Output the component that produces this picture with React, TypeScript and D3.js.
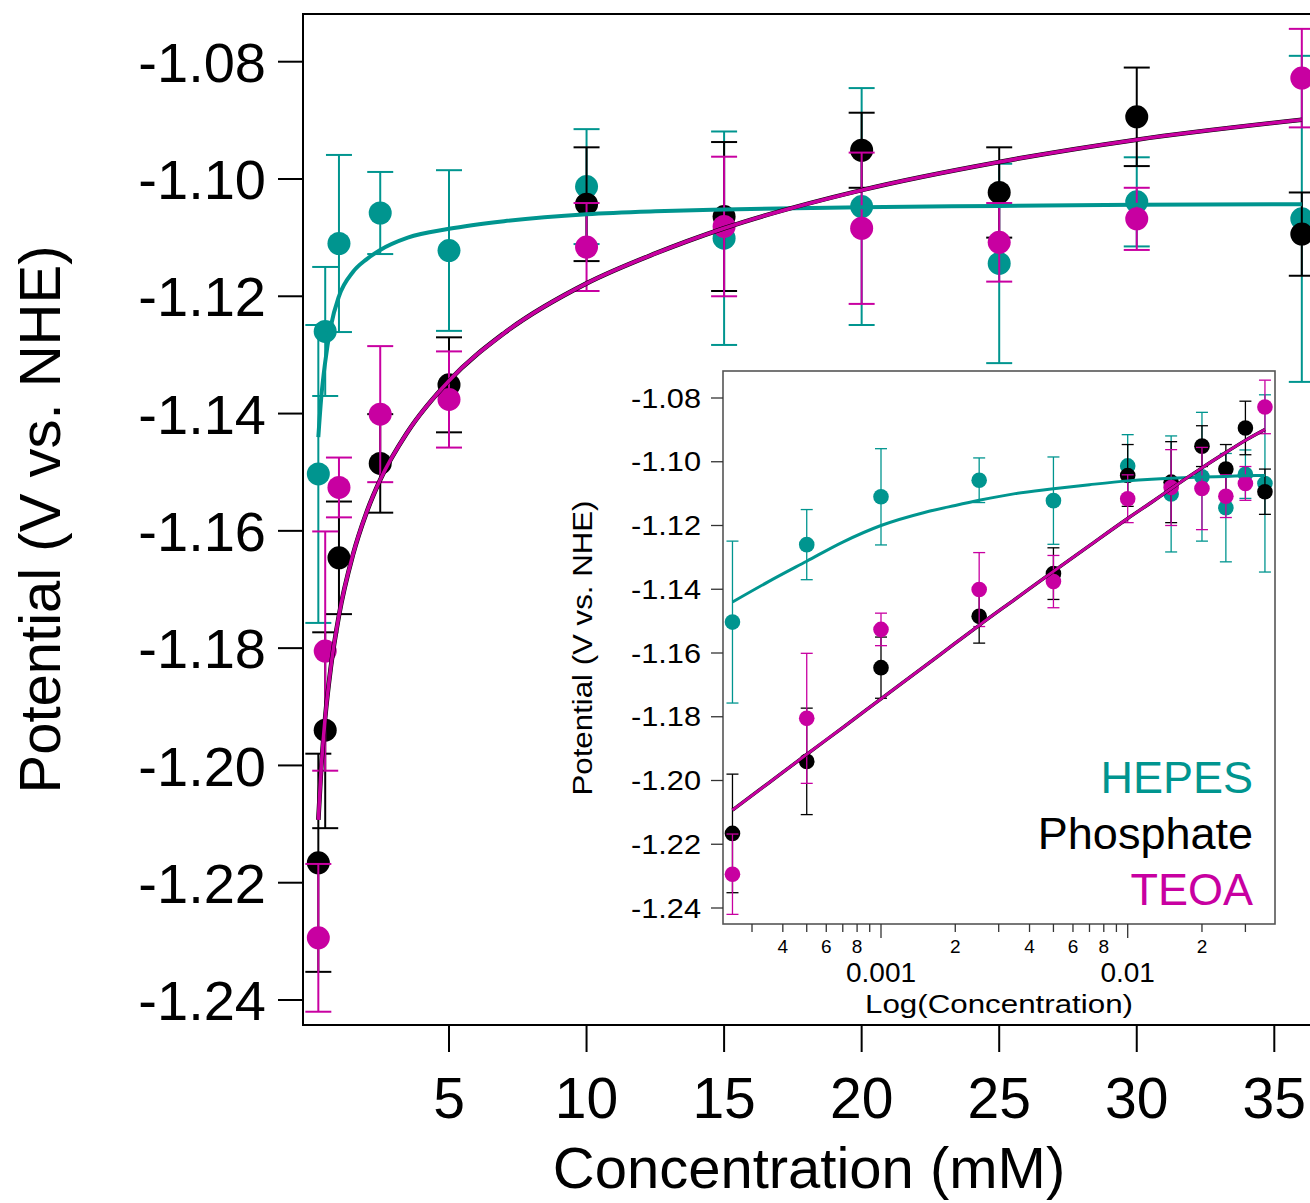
import React from "react";
import * as d3 from "d3";

// ---- data (concentration in mM, potential in V vs. NHE) ----
const concentrations = [0.25, 0.5, 1, 2.5, 5, 10, 15, 20, 25, 30, 36];
const hepesValues = [-1.1503, -1.126, -1.111, -1.1058, -1.1122, -1.1013, -1.1101, -1.1047, -1.1144, -1.1039, -1.1068];
const hepesErrors = [0.0254, 0.011, 0.0151, 0.007, 0.0137, 0.0098, 0.0182, 0.0202, 0.017, 0.0076, 0.0278];
const phosphateValues = [-1.2166, -1.194, -1.1646, -1.1485, -1.1351, -1.1043, -1.1064, -1.0951, -1.1023, -1.0894, -1.1094];
const phosphateErrors = [0.0186, 0.0167, 0.0096, 0.0084, 0.0081, 0.0097, 0.0127, 0.0064, 0.0077, 0.0084, 0.0071];
const teoaValues = [-1.2294, -1.1805, -1.1526, -1.1401, -1.1376, -1.1116, -1.1081, -1.1084, -1.1108, -1.1068, -1.0828];
const teoaErrors = [0.0126, 0.0204, 0.0051, 0.0116, 0.0082, 0.0075, 0.0119, 0.0129, 0.0067, 0.0053, 0.0084];

// fitted curves
const fitConcentrations = [0.25, 0.35, 0.5, 0.7, 1, 1.5, 2, 2.5, 3.5, 5, 7, 10, 12.5, 15, 20, 25, 30, 36];
const hepesFit = [-1.144, -1.1376, -1.1312, -1.1252, -1.12, -1.1159, -1.1137, -1.1121, -1.11, -1.1085, -1.1072, -1.106, -1.1055, -1.1052, -1.1048, -1.1046, -1.1044, -1.1043];
const phosphateFit = [-1.2093, -1.2008, -1.1918, -1.1834, -1.1744, -1.1642, -1.1569, -1.1513, -1.1431, -1.1344, -1.1263, -1.1178, -1.1127, -1.1084, -1.1019, -1.0971, -1.0933, -1.0899];
const teoaFit = [-1.2093, -1.2008, -1.1918, -1.1834, -1.1744, -1.1642, -1.1569, -1.1513, -1.1431, -1.1344, -1.1263, -1.1178, -1.1127, -1.1084, -1.1019, -1.0971, -1.0933, -1.0899];

const mainXTicks = [5, 10, 15, 20, 25, 30, 35];
const yTicks = [-1.08, -1.1, -1.12, -1.14, -1.16, -1.18, -1.2, -1.22, -1.24];
const insetMinorTicks = [3e-4, 4e-4, 5e-4, 6e-4, 7e-4, 8e-4, 9e-4, 2e-3, 3e-3, 4e-3, 5e-3, 6e-3, 7e-3, 8e-3, 9e-3, 2e-2, 3e-2];
const insetMajorTicks = [1e-3, 1e-2];
const insetMinorLabels = [4e-4, 6e-4, 8e-4, 2e-3, 4e-3, 6e-3, 8e-3, 2e-2];

const TEAL = "#00958F";
const MAGENTA = "#C800A1";
const BLACK = "#000000";
const FONT = "'Liberation Sans', Arial, Helvetica, sans-serif";

const series = [
  { name: "HEPES", color: TEAL, values: hepesValues, errors: hepesErrors },
  { name: "Phosphate", color: BLACK, values: phosphateValues, errors: phosphateErrors },
  { name: "TEOA", color: MAGENTA, values: teoaValues, errors: teoaErrors },
];
const fits = [
  { color: TEAL, values: hepesFit, wMain: 4, wInset: 3 },
  { color: BLACK, values: phosphateFit, wMain: 4.6, wInset: 3.4 },
  { color: MAGENTA, values: teoaFit, wMain: 3.6, wInset: 2.8 },
];

export default function App() {
  const W = 1310, H = 1203;
  // main panel
  const mL = 303, mT = 14, mB = 1025, mR = 1345;
  const x = d3.scaleLinear().domain([0, 35]).range([311.45, 1274.3]);
  const y = d3.scaleLinear().domain([-1.24, -1.08]).range([1000, 61.7]);

  // inset panel
  const iL = 723, iT = 371, iR = 1275, iB = 924;
  const xi = d3.scaleLog().domain([0.001, 0.01]).range([881, 1127.7]);
  const yi = d3.scaleLinear().domain([-1.24, -1.08]).range([908, 398]);

  const mainLine = (vals: number[]) =>
    d3.line<number>().x((_, i) => x(fitConcentrations[i])).y((v) => y(v)).curve(d3.curveMonotoneX)(vals) || "";
  const insetLine = (vals: number[]) =>
    d3.line<number>().x((_, i) => xi(fitConcentrations[i] / 1000)).y((v) => yi(v)).curve(d3.curveMonotoneX)(vals) || "";

  return (
    <svg width={W} height={H} style={{ position: "absolute", left: 0, top: 0, background: "#fff" }} fontFamily={FONT}>
      <rect x={0} y={0} width={W} height={H} fill="#fff" />
      {/* main frame */}
      <rect x={mL} y={mT} width={mR - mL} height={mB - mT} fill="none" stroke="#000" strokeWidth={2} />
      {/* y ticks */}
      {yTicks.map((t) => (
        <g key={"yt" + t}>
          <line x1={278} x2={mL} y1={y(t)} y2={y(t)} stroke="#000" strokeWidth={2} />
          <text x={266} y={y(t)} dy="0.36em" textAnchor="end" fontSize={56}>{t.toFixed(2)}</text>
        </g>
      ))}
      {mainXTicks.map((t) => (
        <g key={"xt" + t}>
          <line x1={x(t)} x2={x(t)} y1={mB} y2={1052} stroke="#000" strokeWidth={2} />
          <text x={x(t)} y={1118} textAnchor="middle" fontSize={57}>{t}</text>
        </g>
      ))}
      <text x={809} y={1188} textAnchor="middle" fontSize={58}>Concentration (mM)</text>
      <text transform={`translate(60,${(mT + mB) / 2}) rotate(-90)`} textAnchor="middle" fontSize={58}>Potential (V vs. NHE)</text>

      {/* main data */}
      {series.map((s) => (
        <g key={"m" + s.name}>
          {s.values.map((v, i) => {
            const cx = x(concentrations[i]);
            const y1 = y(v + s.errors[i]);
            const y2 = y(v - s.errors[i]);
            return (
              <g key={i}>
                <line x1={cx} x2={cx} y1={y1} y2={y2} stroke={s.color} strokeWidth={2} />
                <line x1={cx - 13} x2={cx + 13} y1={y1} y2={y1} stroke={s.color} strokeWidth={2} />
                <line x1={cx - 13} x2={cx + 13} y1={y2} y2={y2} stroke={s.color} strokeWidth={2} />
                <circle cx={cx} cy={y(v)} r={11.5} fill={s.color} />
              </g>
            );
          })}
        </g>
      ))}
      {fits.map((f, k) => (
        <path key={"mf" + k} d={mainLine(f.values)} fill="none" stroke={f.color} strokeWidth={f.wMain} />
      ))}

      {/* inset */}
      <rect x={iL} y={iT} width={iR - iL} height={iB - iT} fill="#fff" stroke="#555" strokeWidth={1.6} />
      {yTicks.map((t) => (
        <g key={"iyt" + t}>
          <line x1={iL - 12} x2={iL} y1={yi(t)} y2={yi(t)} stroke="#333" strokeWidth={1.3} />
          <text x={701} y={yi(t)} dy="0.36em" textAnchor="end" fontSize={27} textLength={70} lengthAdjust="spacingAndGlyphs">{t.toFixed(2)}</text>
        </g>
      ))}
      {insetMinorTicks.map((t) => (
        <line key={"imt" + t} x1={xi(t)} x2={xi(t)} y1={iB} y2={iB + 8} stroke="#333" strokeWidth={1.3} />
      ))}
      {insetMajorTicks.map((t) => (
        <g key={"iMt" + t}>
          <line x1={xi(t)} x2={xi(t)} y1={iB} y2={iB + 14} stroke="#333" strokeWidth={1.3} />
          <text x={xi(t)} y={982} textAnchor="middle" fontSize={28}>{t === 0.001 ? "0.001" : "0.01"}</text>
        </g>
      ))}
      {insetMinorLabels.map((t) => (
        <text key={"iml" + t} x={xi(t)} y={953} textAnchor="middle" fontSize={19}>
          {Math.round(t / Math.pow(10, Math.floor(Math.log10(t) + 1e-9)))}
        </text>
      ))}
      <text x={999} y={1013} textAnchor="middle" fontSize={26} textLength={268} lengthAdjust="spacingAndGlyphs">Log(Concentration)</text>
      <text transform={`translate(592,648) rotate(-90)`} textAnchor="middle" fontSize={27} textLength={295} lengthAdjust="spacingAndGlyphs">Potential (V vs. NHE)</text>

      {series.map((s) => (
        <g key={"i" + s.name}>
          {s.values.map((v, i) => {
            const cx = xi(concentrations[i] / 1000);
            const y1 = yi(v + s.errors[i]);
            const y2 = yi(v - s.errors[i]);
            return (
              <g key={i}>
                <line x1={cx} x2={cx} y1={y1} y2={y2} stroke={s.color} strokeWidth={1.3} />
                <line x1={cx - 6} x2={cx + 6} y1={y1} y2={y1} stroke={s.color} strokeWidth={1.3} />
                <line x1={cx - 6} x2={cx + 6} y1={y2} y2={y2} stroke={s.color} strokeWidth={1.3} />
                <circle cx={cx} cy={yi(v)} r={7.8} fill={s.color} />
              </g>
            );
          })}
        </g>
      ))}
      {fits.map((f, k) => (
        <path key={"if" + k} d={insetLine(f.values)} fill="none" stroke={f.color} strokeWidth={f.wInset} />
      ))}

      {/* legend */}
      {series.map((s, k) => (
        <text key={"lg" + s.name} x={1253} y={793 + k * 56} textAnchor="end" fontSize={45} fill={s.color}>{s.name}</text>
      ))}
    </svg>
  );
}
